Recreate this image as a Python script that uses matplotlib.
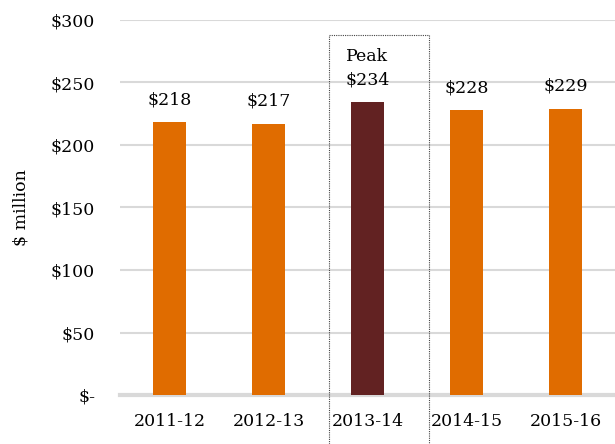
import matplotlib.pyplot as plt
import matplotlib.patches as mpatches

years = ['2011-12', '2012-13', '2013-14', '2014-15', '2015-16']
spend = [218, 217, 234, 228, 229]
peak_year = '2013-14'

orange = '#E06C00'
maroon = '#622222'
grid_col = '#D9D9D9'

plt.rcParams['font.family'] = ['DejaVu Serif']

fig = plt.figure(figsize=(6.15, 4.44), dpi=100)
ax = fig.add_axes([120 / 615, 1 - 395 / 444, 495 / 615, 375 / 444])

x = list(range(len(years)))
colors = [maroon if y == peak_year else orange for y in years]
ax.bar(x, spend, width=0.33, color=colors, zorder=3)

for xi, (y, v) in enumerate(zip(years, spend)):
    label = f"Peak\n${v}" if y == peak_year else f"${v}"
    ax.annotate(label, (xi, v), xytext=(0, 10), textcoords='offset points',
                ha='center', va='bottom', fontsize=12.5, linespacing=1.5)

ax.set_xlim(-0.5, len(years) - 0.5)
ax.set_ylim(0, 300)
yt = [0, 50, 100, 150, 200, 250, 300]
ax.set_yticks(yt)
ax.set_yticklabels(['$-' if t == 0 else f'${t}' for t in yt], fontsize=12.5)
ax.set_xticks(x)
ax.set_xticklabels(years, fontsize=12.5)
ax.tick_params(axis='both', length=0)
ax.tick_params(axis='y', pad=18)
ax.tick_params(axis='x', pad=13)

ax.yaxis.grid(True, color=grid_col, linewidth=1.5, zorder=0)
for s in ['top', 'right', 'left']:
    ax.spines[s].set_visible(False)
ax.spines['bottom'].set_color(grid_col)
ax.spines['bottom'].set_linewidth(3)

ax.set_ylabel('$ million', fontsize=12.5, labelpad=15)

# dotted box around the peak year
pi = years.index(peak_year)
box = mpatches.Rectangle((pi - 0.39, -60), 1.01, 348, fill=False,
                         linestyle=(0, (1, 1)), linewidth=0.8, edgecolor='#444444',
                         clip_on=False, zorder=4)
ax.add_patch(box)

fig.savefig('out.png', dpi=100)
